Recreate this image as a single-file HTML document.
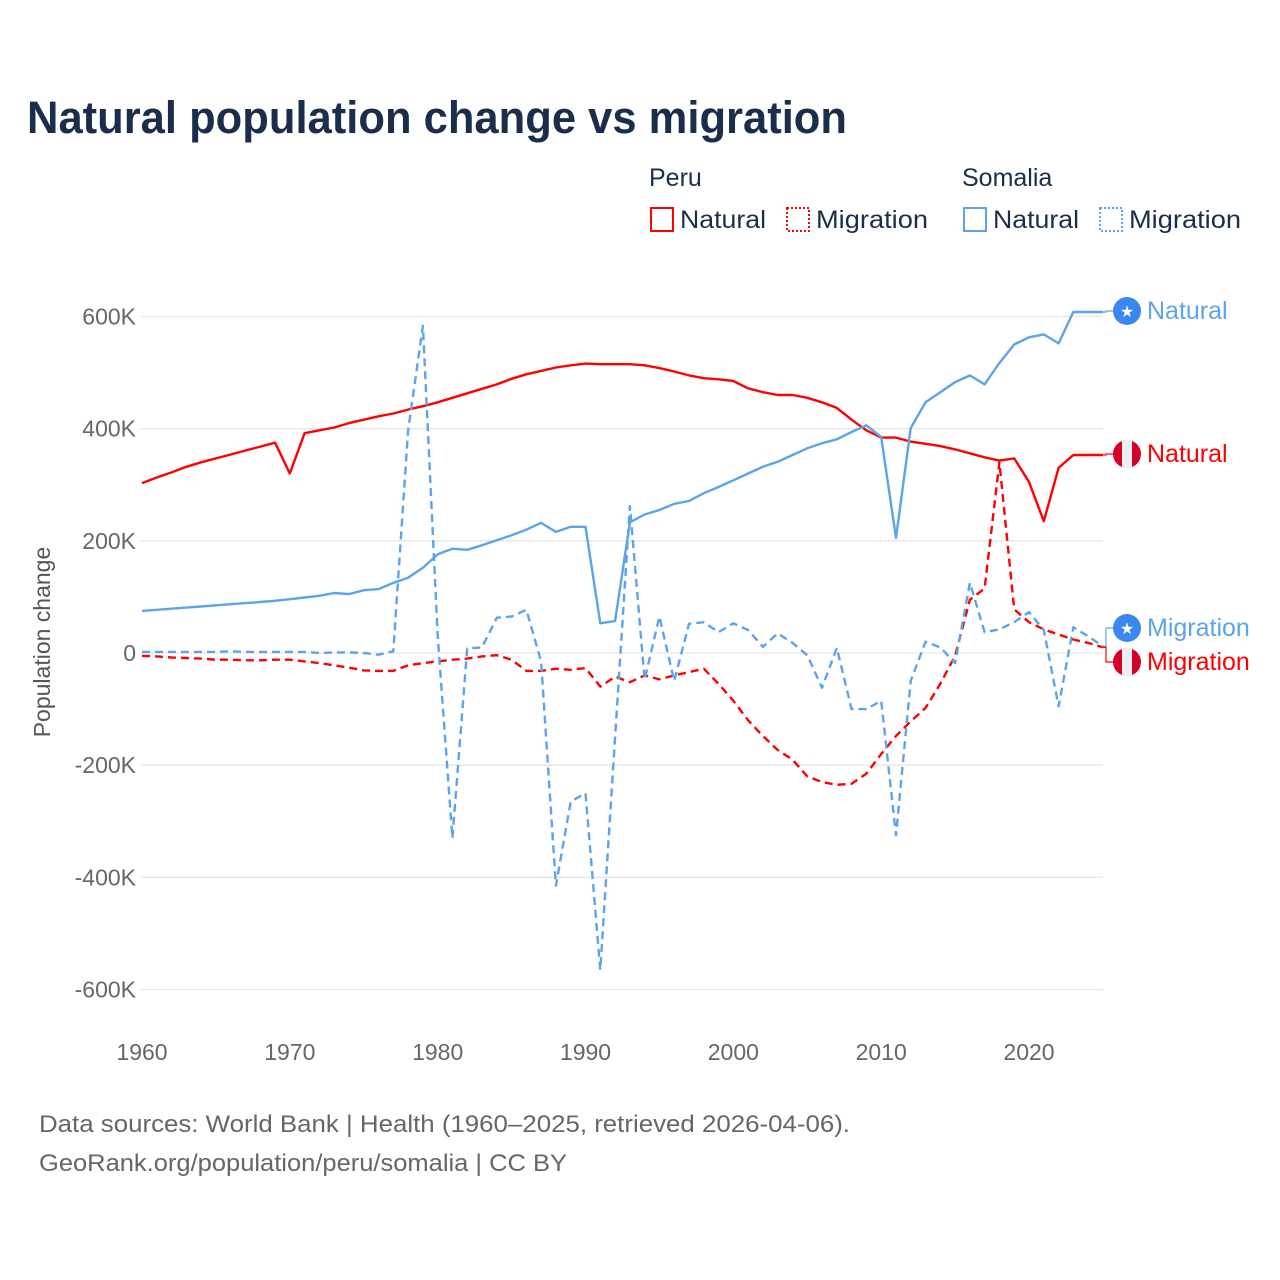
<!DOCTYPE html>
<html><head><meta charset="utf-8">
<style>
body{margin:0;background:#fff;font-family:"Liberation Sans",sans-serif;}
#wrap{position:relative;width:1280px;height:1280px;overflow:hidden;background:#fff}
</style></head>
<body>
<div id="wrap">
<svg id="chart" width="1280" height="1280" xmlns="http://www.w3.org/2000/svg">
<text x="27" y="133" font-size="45" font-weight="bold" fill="#1a2e4c" textLength="820" lengthAdjust="spacingAndGlyphs" font-family="Liberation Sans,sans-serif">Natural population change vs migration</text>
<g font-size="25" fill="#1a2e4c">
<text x="649" y="186">Peru</text>
<text x="962" y="186">Somalia</text>
<g><rect x="651" y="208" width="22" height="23" fill="none" stroke="#f00" stroke-width="2"/><text x="680" y="228" textLength="86" lengthAdjust="spacingAndGlyphs">Natural</text></g>
<g><rect x="787" y="208" width="22" height="23" fill="none" stroke="#f00" stroke-width="2" stroke-dasharray="2,2"/><text x="816" y="228" textLength="112" lengthAdjust="spacingAndGlyphs">Migration</text></g>
<g><rect x="964" y="208" width="22" height="23" fill="none" stroke="#5ba3ec" stroke-width="2"/><text x="993" y="228" textLength="86" lengthAdjust="spacingAndGlyphs">Natural</text></g>
<g><rect x="1100" y="208" width="22" height="23" fill="none" stroke="#5ba3ec" stroke-width="2" stroke-dasharray="2,2"/><text x="1129" y="228" textLength="112" lengthAdjust="spacingAndGlyphs">Migration</text></g>
</g>
<g id="grid"></g>
<g id="series"></g>
<g id="labels"></g>
<text transform="translate(50,642) rotate(-90)" text-anchor="middle" font-size="23" fill="#555">Population change</text>
<text x="39" y="1132" font-size="24" fill="#666" textLength="811" lengthAdjust="spacingAndGlyphs">Data sources: World Bank | Health (1960–2025, retrieved 2026-04-06).</text>
<text x="39" y="1171" font-size="24" fill="#666" textLength="528" lengthAdjust="spacingAndGlyphs">GeoRank.org/population/peru/somalia | CC BY</text>
</svg>
</div>
<script>
const years=[];for(let y=1960;y<=2025;y++)years.push(y);
const yTicks=[600,400,200,0,-200,-400,-600];
const yTickLabels=["600K","400K","200K","0","-200K","-400K","-600K"];
const xTicks=[1960,1970,1980,1990,2000,2010,2020];
const peruNatural=[303,313,322,332,340,347,354,361,368,375,320,392,397,402,410,416,422,427,434,440,447,455,463,471,479,489,497,503,509,513,516,515,515,515,513,508,502,495,490,488,485,472,465,460,460,455,447,437,416,397,384,384,377,373,369,363,356,349,343,347,305,235,330,353,353,353];
const somaliaNatural=[75,77,79,81,83,85,87,89,91,93,96,99,102,107,105,112,114,125,134,152,176,186,184,192,201,210,220,232,216,225,225,53,57,233,247,255,266,271,285,296,308,320,332,341,353,365,374,381,394,406,385,205,401,447,465,483,495,479,517,550,563,568,552,608,608,608];
const peruMigration=[-5,-6,-8,-9,-10,-12,-12,-13,-13,-12,-12,-15,-18,-22,-26,-31,-32,-32,-22,-18,-15,-12,-10,-6,-4,-12,-32,-32,-28,-30,-27,-60,-42,-52,-40,-47,-40,-34,-28,-55,-85,-120,-148,-173,-190,-220,-230,-235,-233,-215,-180,-148,-122,-98,-55,-5,95,115,340,78,55,42,33,24,18,10];
const somaliaMigration=[2,2,2,2,2,2,3,2,2,2,2,2,0,1,1,0,-3,3,397,583,30,-330,8,10,63,65,77,-15,-415,-265,-250,-565,-150,262,-48,65,-50,52,55,37,53,41,11,35,18,-4,-62,9,-100,-100,-85,-325,-50,20,10,-18,125,37,42,55,73,41,-95,46,30,12];
const NS="http://www.w3.org/2000/svg";
const X=v=>142+(v-1960)*(887/60);
const Y=v=>653-v*(336.5/600);
const grid=document.getElementById('grid'),series=document.getElementById('series'),labels=document.getElementById('labels');
function mk(tag,attrs,parent){const e=document.createElementNS(NS,tag);for(const k in attrs)e.setAttribute(k,attrs[k]);parent.appendChild(e);return e;}
yTicks.forEach((t,i)=>{
 const l=mk('line',{x1:140,x2:1103,y1:Y(t),y2:Y(t),stroke:'#e6e6e6','stroke-width':1.3},grid);
 
 
 const tx=mk('text',{x:136,y:Y(t)+8,'text-anchor':'end','font-size':23,fill:'#666'},grid);
 tx.textContent=yTickLabels[i];
 
 
});
xTicks.forEach(t=>{
 const tx=mk('text',{x:X(t),y:1060,'text-anchor':'middle','font-size':23,fill:'#666'},grid);
 tx.textContent=t;
 
 
});
function line(vals,color,dash,name){
 const d=vals.map((v,i)=>(i?'L':'M')+X(years[i]).toFixed(1)+','+Y(v).toFixed(1)).join(' ');
 const p=mk('path',{d:d,fill:'none',stroke:color,'stroke-width':2.4,'stroke-linejoin':'round'},series);
 if(dash)p.setAttribute('stroke-dasharray','8,5');
 
 
}
line(peruNatural,'#ff0000',false,'line-peru-natural');
line(somaliaNatural,'#5ba3ec',false,'line-somalia-natural');
line(peruMigration,'#ff0000',true,'line-peru-migration');
line(somaliaMigration,'#5ba3ec',true,'line-somalia-migration');
function endLabel(v,ly,color,flag,text,name){
 const y0=Y(v);
 const c=mk('path',{d:`M1103,${y0} L1106,${y0} L1106,${ly} L1113,${ly}`,fill:'none',stroke:color,'stroke-width':1.2},labels);
 
 
 const g=mk('g',{},labels);
 
 
 if(flag==='so'){
  mk('circle',{cx:1127,cy:ly,r:14,fill:'#3a87ef'},g);
  const s=mk('text',{x:1127,y:ly+6,'text-anchor':'middle','font-size':16,fill:'#fff'},g);s.textContent='★';
 }else{
  mk('circle',{cx:1127,cy:ly,r:14,fill:'#d4002a'},g);
  mk('rect',{x:1122,y:ly-14,width:10,height:28,fill:'#eee'},g);
 }
 const t=mk('text',{x:1147,y:ly+8,'font-size':25,fill:color},g);t.textContent=text;
}
endLabel(somaliaNatural[65],311,'#5ba3ec','so','Natural','end-label-somalia-natural');
endLabel(peruNatural[65],454,'#ff0000','pe','Natural','end-label-peru-natural');
endLabel(somaliaMigration[65],628,'#5ba3ec','so','Migration','end-label-somalia-migration');
endLabel(peruMigration[65],662,'#ff0000','pe','Migration','end-label-peru-migration');
</script>
</body></html>
